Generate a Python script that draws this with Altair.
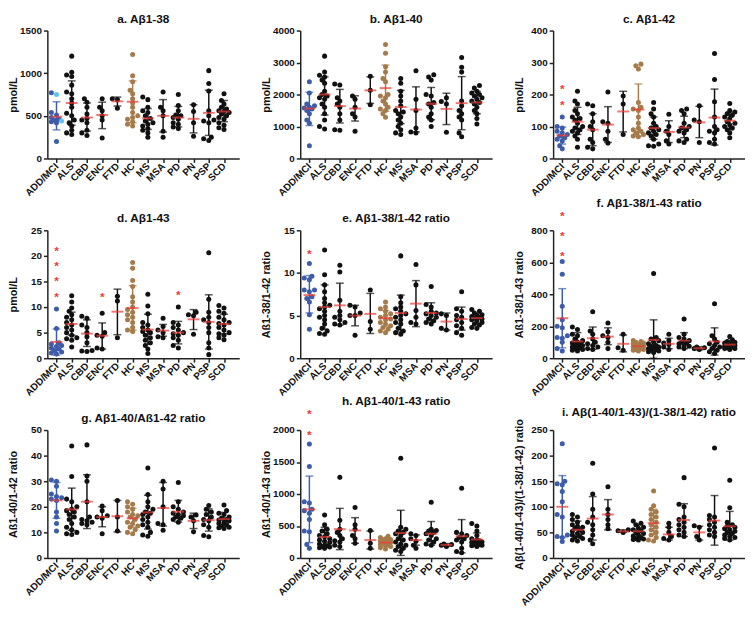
import altair as alt
import pandas as pd

CATS = ["ADD/MCI", "ALS", "CBD", "ENC", "FTD", "HC", "MS", "MSA", "PD", "PN", "PSP", "SCD"]
CATS_I = ["ADD/ADMCI", "ALS", "CBD", "ENC", "FTD", "HC", "MS", "MSA", "PD", "PN", "PSP", "SCD"]

# ---------- a. Aβ1-38 ----------
A_VALS = [
    [770, 750, 540, 510, 480, 460, 450, 440, 430, 420, 200],
    [1200, 1010, 980, 960, 860, 780, 760, 700, 650, 600, 530, 500, 450, 420, 380, 330, 300, 280],
    [700, 660, 600, 520, 470, 450, 420, 330, 300, 270],
    [700, 600, 560, 500, 450, 240],
    [700, 690, 590],
    [1220, 970, 900, 800, 760, 700, 650, 600, 540, 500, 480, 460, 430, 400, 380],
    [720, 690, 600, 560, 540, 500, 470, 440, 420, 400, 380, 350, 330, 300, 250],
    [780, 600, 560, 500, 320, 250],
    [750, 620, 560, 510, 500, 480, 460, 420, 400, 370, 350],
    [630, 550, 420, 260],
    [1030, 880, 790, 560, 500, 450, 440, 420, 250, 230, 210],
    [760, 680, 640, 600, 580, 560, 550, 540, 520, 500, 480, 460, 420, 390, 360, 340],
]
A_MEAN = [490, 650, 480, 510, 670, 665, 470, 500, 480, 465, 535, 550]
A_LO = [335, 390, 320, 350, 615, 420, 340, 310, 370, 300, 270, 430]
A_HI = [665, 910, 650, 660, 720, 910, 585, 690, 610, 630, 800, 680]
A_LIGHT = [750, 440]

# ---------- b. Aβ1-40 ----------
B_VALS = [
    [2400, 2050, 1700, 1650, 1600, 1580, 1550, 1500, 1400, 1200, 1100, 400],
    [3200, 2700, 2600, 2550, 2450, 2350, 2100, 2000, 1950, 1900, 1850, 1700, 1600, 1400, 1200, 1000, 920],
    [2330, 2300, 1900, 1800, 1700, 1600, 1400, 1200, 900, 880],
    [1950, 1850, 1600, 1400, 1300, 850],
    [2570, 2130, 1680],
    [3560, 3290, 2870, 2700, 2500, 2400, 2000, 1950, 1900, 1800, 1700, 1600, 1550, 1500, 1400, 1290],
    [2500, 2350, 2100, 1950, 1800, 1650, 1500, 1450, 1400, 1300, 1200, 1100, 1000, 900, 800, 750],
    [2740, 1850, 1500, 950, 830, 800],
    [2620, 2550, 2450, 2000, 1950, 1750, 1700, 1600, 1400, 1300, 1200, 1000],
    [1900, 1780, 1700, 820],
    [3160, 2850, 2700, 1800, 1650, 1500, 1400, 1300, 1200, 800, 680],
    [2280, 2200, 2100, 2050, 2000, 1950, 1900, 1850, 1800, 1750, 1700, 1600, 1500, 1400, 1250, 1080],
]
B_MEAN = [1560, 2000, 1640, 1560, 2130, 2200, 1610, 1530, 1710, 1550, 1730, 1750]
B_LO = [1030, 1360, 1110, 1170, 1720, 1480, 1090, 830, 1210, 1060, 900, 1400]
B_HI = [2070, 2550, 2160, 1960, 2550, 2920, 2130, 2240, 2220, 2040, 2560, 2100]

# ---------- c. Aβ1-42 ----------
C_VALS = [
    [130, 100, 95, 85, 80, 75, 70, 65, 60, 55, 40, 30],
    [210, 180, 170, 150, 140, 130, 125, 120, 110, 100, 95, 90, 85, 80, 70, 60, 35],
    [170, 165, 140, 115, 100, 90, 60, 50, 35, 30],
    [208, 115, 110, 85, 60, 48],
    [195, 170, 75],
    [295, 290, 280, 175, 160, 155, 150, 130, 110, 95, 90, 85, 80, 75, 70, 68],
    [175, 155, 140, 130, 110, 100, 95, 90, 85, 80, 75, 70, 60, 45, 40, 38],
    [138, 100, 85, 75, 55, 45],
    [155, 150, 140, 110, 100, 95, 90, 85, 80, 60, 55, 50],
    [165, 120, 115, 50],
    [328, 247, 177, 130, 100, 90, 85, 80, 60, 50, 45],
    [172, 150, 145, 140, 135, 130, 125, 115, 110, 105, 100, 95, 90, 80, 65],
]
C_MEAN = [72, 115, 90, 106, 147, 153, 95, 83, 97, 113, 128, 118]
C_LO = [45, 75, 40, 50, 83, 70, 60, 50, 65, 65, 42, 90]
C_HI = [98, 160, 140, 162, 210, 233, 130, 118, 132, 163, 217, 145]

# ---------- d. Aβ1-43 ----------
D_VALS = [
    [9.6, 5.8, 3.0, 2.8, 2.5, 2.3, 2.0, 1.8, 1.5, 1.2, 1.0, 0.8],
    [12.2, 11.0, 9.8, 9.2, 8.5, 8.0, 7.5, 7.0, 6.5, 6.0, 5.5, 5.0, 4.5, 4.0, 3.8, 3.5, 2.2],
    [8.2, 7.8, 6.5, 6.0, 5.0, 4.2, 3.0, 1.5, 1.4, 1.3],
    [8.8, 5.0, 4.5, 4.3, 2.0, 1.8],
    [12.1, 11.2, 4.0],
    [18.7, 17.6, 15.2, 14.0, 12.0, 11.0, 10.0, 9.5, 9.0, 8.5, 8.0, 7.5, 7.0, 6.0, 5.5, 5.2],
    [12.5, 10.2, 8.7, 7.0, 6.5, 6.0, 5.5, 5.2, 5.0, 4.5, 4.0, 3.5, 3.0, 2.5, 1.8, 0.9],
    [7.8, 6.2, 5.5, 5.0, 4.2, 4.0],
    [10.0, 7.0, 6.5, 6.0, 5.5, 5.0, 4.8, 4.5, 4.0, 3.5, 2.5, 2.0],
    [9.0, 8.5, 8.3, 4.7],
    [20.6, 11.5, 9.0, 8.0, 7.5, 7.0, 6.0, 5.0, 3.0, 2.0, 0.7],
    [10.3, 9.8, 9.2, 8.8, 8.0, 7.5, 7.0, 6.8, 6.5, 6.0, 5.5, 5.0, 4.8, 4.5, 4.0, 3.6],
]
D_MEAN = [3.2, 6.7, 4.8, 4.4, 9.1, 9.8, 5.6, 5.4, 5.0, 7.6, 7.1, 6.7]
D_LO = [0.6, 4.5, 2.3, 1.8, 4.6, 5.5, 2.7, 4.3, 2.8, 5.6, 1.8, 4.8]
D_HI = [5.7, 9.0, 7.5, 6.9, 13.5, 14.2, 8.6, 6.6, 7.2, 9.5, 12.4, 8.6]

# ---------- e. Aβ1-38/1-42 ratio ----------
E_VALS = [
    [11.1, 9.6, 9.4, 9.2, 8.0, 8.0, 7.8, 7.2, 7.0, 6.6, 5.1, 3.4],
    [12.7, 9.8, 8.6, 7.8, 7.0, 6.5, 6.2, 6.0, 5.8, 5.5, 5.0, 4.8, 4.5, 4.0, 3.5, 3.2, 2.9, 2.8],
    [10.9, 10.1, 6.8, 5.5, 5.0, 4.8, 4.5, 4.2, 4.0, 3.9],
    [6.2, 6.0, 5.3, 5.0, 5.0, 2.7],
    [8.0, 4.3, 3.4],
    [6.6, 6.0, 5.8, 5.5, 5.2, 5.0, 4.8, 4.6, 4.5, 4.2, 4.0, 3.8, 3.6, 3.4, 3.2, 3.0],
    [12.0, 7.2, 6.5, 6.0, 5.8, 5.5, 5.2, 5.0, 4.8, 4.5, 4.2, 4.0, 3.5, 3.2, 3.0, 2.8],
    [11.0, 8.6, 5.6, 4.8, 4.2, 4.0],
    [8.4, 6.3, 6.0, 5.5, 5.3, 5.2, 5.0, 4.8, 4.6, 4.4, 4.2, 4.0],
    [5.2, 5.0, 3.5, 3.3],
    [7.8, 5.8, 5.5, 5.0, 4.8, 4.5, 4.2, 3.8, 3.5, 3.0, 2.7],
    [5.7, 5.5, 5.3, 5.1, 5.0, 4.9, 4.8, 4.7, 4.6, 4.5, 4.4, 4.2, 4.0, 3.9, 3.6, 3.5],
]
E_MEAN = [7.4, 6.0, 6.2, 5.0, 5.2, 4.7, 5.3, 6.4, 5.3, 4.3, 4.6, 4.7]
E_LO = [5.3, 3.4, 3.9, 3.8, 2.9, 3.7, 3.1, 3.7, 4.2, 3.3, 3.3, 4.0]
E_HI = [9.7, 8.6, 8.8, 6.2, 7.6, 5.6, 7.4, 9.1, 6.5, 5.3, 6.0, 5.3]

# ---------- f. Aβ1-38/1-43 ratio ----------
F_VALS = [
    [605, 525, 325, 240, 200, 190, 140, 130, 125, 100, 60, 45],
    [195, 180, 150, 140, 120, 110, 100, 95, 90, 85, 80, 75, 70, 65, 60, 55, 50, 45],
    [290, 170, 150, 120, 100, 90, 80, 70, 60, 55],
    [220, 165, 140, 130, 100, 60],
    [150, 65, 50],
    [110, 105, 100, 95, 90, 85, 80, 75, 75, 70, 65, 60, 55, 55, 50, 45],
    [530, 130, 120, 110, 100, 90, 80, 75, 70, 65, 60, 55, 50, 45, 40, 35],
    [150, 110, 95, 85, 70, 55],
    [245, 150, 130, 120, 110, 100, 95, 90, 80, 75, 70, 60],
    [70, 65, 60, 55],
    [340, 140, 120, 100, 90, 80, 70, 60, 50, 40, 30],
    [135, 115, 105, 100, 95, 90, 85, 80, 80, 75, 75, 70, 65, 60, 60, 55],
]
F_MEAN = [250, 105, 125, 135, 90, 75, 115, 90, 110, 62, 105, 85]
F_LO = [65, 55, 55, 85, 40, 55, 0, 60, 60, 52, 20, 65]
F_HI = [435, 160, 195, 190, 145, 95, 240, 125, 160, 72, 190, 110]

# ---------- g. Aβ1-40/Aβ1-42 ratio ----------
G_VALS = [
    [30.5, 30.0, 28.0, 25.0, 24.0, 23.5, 23.0, 22.5, 18.0, 16.0, 13.5, 10.5],
    [43.8, 31.8, 23.0, 22.0, 20.0, 19.0, 18.5, 18.0, 17.0, 16.0, 15.0, 13.5, 12.0, 11.0, 10.0, 9.5, 9.2],
    [44.2, 32.0, 30.0, 22.0, 16.0, 15.0, 14.5, 14.0, 13.5, 13.0],
    [20.3, 18.5, 16.5, 16.0, 15.5, 9.5],
    [22.5, 16.0, 10.5],
    [22.0, 21.0, 20.0, 19.0, 18.0, 17.0, 16.5, 16.0, 15.0, 14.0, 13.5, 12.5, 12.0, 11.0, 10.0, 9.5],
    [35.2, 24.8, 22.0, 20.0, 19.0, 18.0, 17.5, 17.0, 16.0, 15.0, 14.0, 13.0, 12.0, 10.0, 9.0, 8.5],
    [30.0, 27.0, 20.0, 13.5, 13.0, 10.8],
    [29.5, 22.0, 20.0, 19.0, 18.0, 17.5, 17.0, 16.5, 16.0, 15.5, 15.0, 14.0],
    [16.8, 16.0, 14.5, 10.2],
    [20.5, 19.0, 18.0, 17.0, 16.0, 15.0, 14.5, 13.0, 12.0, 8.8, 8.3],
    [20.7, 18.5, 17.5, 17.0, 16.0, 15.5, 15.0, 14.8, 14.5, 14.0, 13.5, 13.0, 12.5, 12.0, 11.8, 11.5],
]
G_MEAN = [22.5, 19.0, 22.0, 16.0, 16.3, 15.5, 17.8, 19.5, 18.1, 14.5, 14.8, 15.2]
G_LO = [15.5, 10.8, 11.5, 12.2, 10.2, 12.0, 11.3, 12.5, 14.0, 11.5, 10.5, 12.8]
G_HI = [29.5, 27.3, 32.5, 20.0, 22.5, 19.5, 24.5, 29.5, 22.5, 17.5, 19.2, 17.8]

# ---------- h. Aβ1-40/1-43 ratio ----------
H_VALS = [
    [1780, 1430, 880, 860, 760, 740, 700, 600, 420, 410, 210, 150],
    [670, 520, 450, 420, 380, 350, 330, 300, 280, 260, 240, 220, 200, 190, 180, 170, 160, 150],
    [1260, 590, 450, 400, 350, 300, 270, 250, 200, 180],
    [790, 520, 450, 350, 300, 230],
    [430, 230, 150],
    [340, 320, 300, 290, 280, 270, 260, 250, 240, 230, 220, 210, 200, 180, 160, 140],
    [1560, 480, 450, 420, 400, 380, 350, 300, 280, 250, 220, 200, 180, 150, 120, 100],
    [380, 350, 300, 260, 200, 150],
    [870, 450, 430, 420, 400, 380, 350, 300, 280, 250, 220, 200],
    [220, 210, 200, 180],
    [1090, 400, 380, 350, 320, 300, 280, 250, 150, 100, 80],
    [540, 500, 420, 350, 300, 280, 270, 260, 250, 240, 230, 220, 210, 200, 190, 180],
]
H_MEAN = [760, 330, 450, 430, 280, 240, 390, 280, 380, 205, 340, 290]
H_LO = [240, 170, 130, 230, 140, 175, 40, 200, 200, 180, 80, 180]
H_HI = [1280, 480, 775, 630, 420, 310, 745, 360, 570, 225, 600, 390]

# ---------- i. Aβ(1-40/1-43)/(1-38/1-42) ratio ----------
I_VALS = [
    [223, 150, 145, 143, 130, 110, 85, 80, 45, 42, 40, 32],
    [85, 80, 75, 70, 65, 62, 60, 58, 55, 52, 50, 48, 45, 42, 40, 38, 35, 33],
    [185, 125, 95, 80, 70, 65, 55, 45, 35, 28],
    [139, 95, 85, 75, 65, 57],
    [55, 53, 50],
    [72, 68, 65, 60, 58, 55, 53, 50, 48, 45, 43, 40, 38, 37, 36, 35],
    [131, 102, 95, 90, 85, 80, 75, 70, 65, 60, 55, 50, 45, 40, 35, 33],
    [68, 60, 50, 42, 38, 35],
    [157, 105, 100, 80, 75, 70, 65, 60, 55, 50, 45, 42],
    [63, 60, 42, 35],
    [215, 83, 80, 75, 70, 65, 60, 55, 50, 45, 42],
    [152, 98, 70, 65, 62, 60, 57, 55, 52, 50, 48, 45, 42, 40, 38, 35],
]
I_MEAN = [100, 55, 77, 85, 52, 52, 68, 46, 74, 50, 73, 62]
I_LO = [40, 40, 35, 55, 50, 40, 45, 35, 42, 35, 25, 35]
I_HI = [161, 72, 120, 114, 55, 65, 95, 60, 106, 62, 122, 91]

# significance asterisks: (category index, y value)
C_STARS = [(0, 225), (0, 175)]
D_STARS = [(0, 21.6), (0, 18.6), (0, 15.6), (0, 12.6), (3, 12.6), (8, 12.9)]
E_STARS = [(0, 12.6)]
F_STARS = [(0, 910), (0, 785), (0, 660)]
H_STARS = [(0, 2300), (0, 1975)]

PANELS = [
    ("a. Aβ1-38", "pmol/L", 1500, 500, A_VALS, A_MEAN, A_LO, A_HI, [], CATS, 5),
    ("b. Aβ1-40", "pmol/L", 4000, 1000, B_VALS, B_MEAN, B_LO, B_HI, [], CATS, 5),
    ("c. Aβ1-42", "pmol/L", 400, 100, C_VALS, C_MEAN, C_LO, C_HI, C_STARS, CATS, 5),
    ("d. Aβ1-43", "pmol/L", 25, 5, D_VALS, D_MEAN, D_LO, D_HI, D_STARS, CATS, 5),
    ("e. Aβ1-38/1-42 ratio", "Aß1-38/1-42 ratio", 15, 5, E_VALS, E_MEAN, E_LO, E_HI, E_STARS, CATS, 5),
    ("f. Aβ1-38/1-43 ratio", "Aß1-38/1-43 ratio", 800, 200, F_VALS, F_MEAN, F_LO, F_HI, F_STARS, CATS, 5),
    ("g. Aβ1-40/Aß1-42 ratio", "Aß1-40/1-42 ratio", 50, 10, G_VALS, G_MEAN, G_LO, G_HI, [], CATS, 5),
    ("h. Aβ1-40/1-43 ratio", "Aß1-40/1-43 ratio", 2000, 500, H_VALS, H_MEAN, H_LO, H_HI, H_STARS, CATS, 5),
    ("i. Aβ(1-40/1-43)/(1-38/1-42) ratio", "Aβ(1-40/1-43)/(1-38/1-42) ratio", 250, 50, I_VALS, I_MEAN, I_LO, I_HI, [], CATS_I, 6),
]

BLUE = "#3d5ca9"
LIGHT = "#62c3ea"
BROWN = "#a57b4b"
BLACK = "#111111"
RED = "#ee3a36"

W, H = 195, 130
XDOM = [-0.6, 12.0]
PX_PER_UNIT = W / (XDOM[1] - XDOM[0])
FONT = "Liberation Sans"


def swarm(vals, ymax):
    """Deterministic beeswarm offsets (in x units) so dots barely overlap."""
    ypx = H / ymax
    diam = 4.0
    step = 2.6
    order = sorted(range(len(vals)), key=lambda i: vals[i])
    placed = []
    offs = [0.0] * len(vals)
    for i in order:
        y = vals[i] * ypx
        best, best_d = 0.0, -1
        for k in [0, -1, 1, -2, 2]:
            x = k * step
            dmin = min([((x - px) ** 2 + (y - py) ** 2) ** 0.5 for px, py in placed] or [99])
            if dmin >= diam:
                best = x
                break
            if dmin > best_d:
                best_d, best = dmin, x
        placed.append((best, y))
        offs[i] = best / PX_PER_UNIT
    return offs


def make_panel(spec):
    title, ytitle, ymax, ystep, vals, mean, lo, hi, stars, cats, brown_idx = spec
    pts, stats = [], []
    for ci, group in enumerate(vals):
        offs = swarm(group, ymax)
        if ci == 0:
            grp_col = "blue"
        elif ci == brown_idx:
            grp_col = "brown"
        else:
            grp_col = "black"
        for v, o in zip(group, offs):
            g = grp_col
            if ci == 0 and ymax == 1500 and v in A_LIGHT:
                g = "light"
            pts.append({"x": ci + o, "y": v, "g": g})
        stats.append({"x": ci, "y": mean[ci], "lo": lo[ci], "hi": hi[ci], "g": grp_col})
    pdf = pd.DataFrame(pts)
    sdf = pd.DataFrame(stats)

    color = alt.Color("g:N", scale=alt.Scale(domain=["blue", "light", "brown", "black"],
                                             range=[BLUE, LIGHT, BROWN, BLACK]), legend=None)
    label_expr = "[" + ",".join("'" + c + "'" for c in cats) + "][datum.value]"
    x_axis = alt.Axis(values=list(range(12)), labelExpr=label_expr, title=None,
                      labelAngle=-45, labelAlign="right", labelBaseline="middle",
                      labelPadding=2, labelOverlap=False, labelFlush=False, labelBound=False)
    x_scale = alt.Scale(domain=XDOM, nice=False, zero=False)
    x = alt.X("x:Q", scale=x_scale, axis=x_axis)
    y_axis = alt.Axis(values=list(range(0, ymax + 1, ystep)), title=ytitle, format="d",
                      minExtent=27, maxExtent=27, titlePadding=2)
    yscale = alt.Scale(domain=[0, ymax], nice=False, zero=True)

    def Y(field):
        return alt.Y(field + ":Q", scale=yscale, axis=y_axis, title=ytitle)

    points = alt.Chart(pdf).mark_circle(size=26, opacity=1).encode(x=x, y=Y("y"), color=color)
    rule = alt.Chart(sdf).mark_rule(strokeWidth=1.5).encode(
        x=x, y=Y("lo"), y2="hi:Q", color=color)
    cap_lo = alt.Chart(sdf).mark_tick(orient="horizontal", size=8, thickness=1.5).encode(
        x=x, y=Y("lo"), color=color)
    cap_hi = alt.Chart(sdf).mark_tick(orient="horizontal", size=8, thickness=1.5).encode(
        x=x, y=Y("hi"), color=color)
    mean_t = alt.Chart(sdf).mark_tick(orient="horizontal", size=12, thickness=2, color=RED).encode(
        x=x, y=Y("y"))
    layers = [points, rule, cap_lo, cap_hi, mean_t]
    if stars:
        stardf = pd.DataFrame([{"x": c, "y": y, "t": "*"} for c, y in stars])
        layers.append(alt.Chart(stardf).mark_text(color=RED, fontSize=12, fontWeight="bold",
                                                  baseline="middle", dy=3, font=FONT).encode(
            x=x, y=Y("y"), text="t:N"))
    return alt.layer(*layers).properties(
        width=W, height=H,
        title=alt.TitleParams(title, fontSize=12, fontWeight="bold", anchor="middle",
                              offset=0, font=FONT, color="#111"))


charts = [make_panel(p) for p in PANELS]

chart = alt.ConcatChart(
    concat=charts, columns=3, bounds="flush",
    spacing=alt.RowColnumber(row=73, column=62),
    padding={"left": 0, "top": 0, "right": 0, "bottom": 0},
).configure_view(stroke=None).configure_axis(
    grid=False, labelFont=FONT, labelFontSize=10, labelFontWeight="bold", labelColor="#111",
    titleFont=FONT, titleFontSize=11, titleFontWeight="bold", titleColor="#111",
    domainColor="#222", domainWidth=1.5, tickColor="#222", tickWidth=1.5, tickSize=4,
    labelPadding=2,
)

chart.save("out.html", embed_options={"renderer": "svg", "actions": False})
